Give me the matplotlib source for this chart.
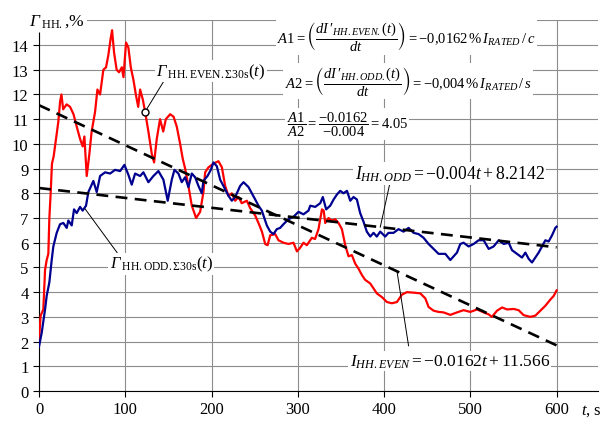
import matplotlib
matplotlib.use("Agg")
import matplotlib.pyplot as plt
import numpy as np

plt.rcParams['font.family'] = 'serif'
plt.rcParams['font.serif'] = ['Liberation Serif', 'DejaVu Serif']
plt.rcParams['mathtext.fontset'] = 'custom'
plt.rcParams['mathtext.rm'] = 'Liberation Serif'
plt.rcParams['mathtext.it'] = 'Liberation Serif:italic'
plt.rcParams['mathtext.bf'] = 'Liberation Serif:bold'
plt.rcParams['mathtext.sf'] = 'Liberation Serif:italic'  # used for the italic Г
plt.rcParams['mathtext.fallback'] = 'stix'

# Г HH.EVEN.Σ30s(t), red
t_even = [0, 1.9, 5, 7, 8.9, 10.8, 12, 13.5, 15, 17, 19.3, 22.4, 24.4, 26, 28, 32, 36, 40,
          43.7, 47.6, 50.6, 52.6, 55.3, 58.4, 61, 65, 67.7, 70.8, 74.6, 77.7, 80.4, 83.2,
          84.7, 87, 90, 92.8, 96, 97.9, 100.9, 103.6, 106.4, 109.4, 112.5, 115, 117.2,
          120.3, 123, 126.8, 130.7, 133.4, 136.5, 140.3, 144, 147, 152, 156, 159.7, 163.6,
          166.6, 169.4, 173.2, 177.1, 182.1, 186.8, 190.6, 192.6, 196.4, 202.2, 208, 212,
          215.8, 219.6, 223.5, 227.4, 231.2, 235, 241, 244.8, 250.6, 254.4, 258.4, 262.2,
          265, 268, 273.8, 277.6, 283.4, 289.2, 295, 299, 302.8, 306.6, 310.5, 316.3, 320,
          324, 328, 330, 331.8, 335.6, 339.5, 343.4, 347.2, 351.1, 355, 358.8, 362.7, 366.6,
          370.4, 374.2, 378, 384, 387.8, 391.6, 397.5, 403.3, 409, 414.9, 420.7, 426.5,
          434.3, 442, 447.8, 451.6, 457.4, 463.2, 469, 476.8, 484.5, 492.2, 500, 507.8,
          515.5, 521.3, 525, 531, 536.8, 542.6, 550.3, 556, 561.8, 569.6, 575.4, 581.2,
          587, 592.8, 596.7, 600]
g_even = [2.1, 3.05, 3.3, 4.9, 5.3, 5.55, 7.0, 8.0, 9.2, 9.5, 10.1, 10.9, 11.7, 12.0, 11.4,
          11.6, 11.5, 11.2, 10.7, 10.2, 9.9, 10.3, 8.7, 9.6, 10.5, 11.3, 12.2, 12.0, 13.0,
          13.1, 13.6, 14.3, 14.6, 13.7, 13.0, 12.9, 13.1, 12.7, 14.1, 13.9, 13.1, 12.6,
          11.95, 11.5, 12.2, 11.8, 11.3, 10.5, 9.6, 9.25, 10.2, 11.0, 10.5, 11.0, 11.2,
          11.1, 10.7, 10.0, 9.4, 9.0, 8.3, 7.5, 7.0, 7.25, 8.05, 8.85, 9.05, 9.2, 9.3, 9.05,
          8.3, 7.9, 8.0, 7.7, 7.85, 7.6, 7.7, 7.4, 7.1, 6.8, 6.45, 5.95, 5.9, 6.3, 6.35,
          6.1, 6.0, 5.95, 6.0, 5.65, 5.8, 6.0, 5.9, 6.2, 6.15, 6.55, 7.35, 7.3, 6.8, 7.0,
          6.9, 6.95, 6.8, 6.55, 5.9, 5.45, 5.5, 5.15, 4.95, 4.7, 4.5, 4.35, 4.15, 3.95, 3.8,
          3.6, 3.55, 3.6, 3.9, 4.0, 3.98, 3.95, 3.75, 3.4, 3.25, 3.2, 3.18, 3.08, 3.18,
          3.27, 3.2, 3.3, 3.18, 3.1, 3.0, 3.25, 3.38, 3.3, 3.32, 3.27, 3.07, 3.0, 3.05,
          3.25, 3.45, 3.7, 3.85, 4.07]

# Г HH.ODD.Σ30s(t), blue
t_odd = [0, 3.1, 7, 8.9, 12, 14.7, 16.6, 20.5, 24.4, 28.2, 32.1, 34, 37.9, 40.6, 43.7, 47.6,
         50.6, 54.5, 57.2, 63, 66.9, 70.8, 76.6, 82.4, 88.2, 94, 99, 103.6, 107.5, 111.4,
         117.2, 121, 126.8, 132.6, 138.4, 144.2, 149.2, 153.9, 157, 161.6, 165.5, 169.4,
         173.2, 177.1, 181, 184.8, 188.7, 190.6, 195.3, 199.2, 202.2, 206.1, 210, 213.8,
         219.6, 223.5, 227.4, 233.2, 237.1, 242.9, 246.8, 250.6, 254.4, 258.3, 264.1, 268,
         271.8, 275.7, 279.5, 283.4, 289.2, 295, 300.8, 306.6, 312.4, 314.4, 320.2, 326,
         329, 332.9, 337.6, 341.5, 345.3, 349.2, 353, 357, 360.8, 364.6, 368.5, 372.3,
         376.2, 380, 384, 387.8, 391.6, 395.5, 401.3, 405.2, 411, 416.8, 422.6, 428.4,
         434.2, 440, 445.8, 451.6, 457.4, 463.2, 471, 476.8, 480.7, 484.5, 488.4, 492.2,
         498, 503.8, 509.6, 515.5, 521.3, 527, 532.9, 538.7, 544.5, 548.3, 554.1, 559.9,
         563.8, 567.6, 571.5, 575.4, 579.2, 583.1, 587, 590.8, 594.7, 598.6, 600]
g_odd = [1.8, 2.35, 3.3, 3.85, 4.4, 5.3, 5.85, 6.4, 6.75, 6.8, 6.6, 6.9, 6.7, 7.35, 7.2,
         7.45, 7.3, 7.5, 8.05, 8.5, 8.05, 8.7, 8.85, 8.8, 8.95, 8.9, 9.15, 8.75, 8.35, 8.8,
         8.7, 8.85, 8.45, 8.7, 8.9, 8.55, 7.7, 8.55, 8.95, 8.8, 8.45, 8.65, 8.25, 8.8, 8.65,
         8.3, 8.0, 8.5, 8.7, 8.95, 9.25, 9.1, 8.55, 8.3, 7.9, 7.7, 7.85, 8.3, 8.45, 8.25,
         8.0, 7.75, 7.5, 7.3, 6.7, 6.45, 6.35, 6.55, 6.6, 6.75, 6.95, 7.05, 7.25, 7.15, 7.3,
         7.5, 7.45, 7.6, 7.85, 7.35, 7.5, 7.75, 7.95, 8.1, 8.0, 8.1, 7.7, 7.85, 7.75, 7.2,
         6.85, 6.45, 6.25, 6.4, 6.25, 6.45, 6.25, 6.4, 6.4, 6.55, 6.45, 6.6, 6.4, 6.35, 6.2,
         5.95, 5.75, 5.55, 5.55, 5.3, 5.45, 5.6, 5.95, 6.0, 5.85, 5.95, 6.1, 6.1, 5.75,
         5.85, 6.1, 5.95, 6.0, 5.7, 5.55, 5.4, 5.6, 5.35, 5.2, 5.4, 5.6, 5.85, 6.1, 6.05,
         6.3, 6.6, 6.65]

# linear trends
slope_even, icpt_even = -0.0162, 11.566
slope_odd, icpt_odd = -0.004, 8.2142
t_fit = np.array([0, 600])

xticks = [0, 100, 200, 300, 400, 500, 600]
yticks = list(range(0, 15))

fig = plt.figure(figsize=(6.03, 4.27), dpi=100)
ax = fig.add_axes([0.0647, 0.082, 0.927, 0.868])

ax.set_xlim(0, 648)
ax.set_ylim(0, 15)
ax.set_xticks(xticks)
ax.set_yticks(yticks)
ax.tick_params(direction='out', length=4, width=0.8, labelsize=12)
ax.grid(True, color='0.55', lw=0.8)
ax.axhline(15, color='0.55', lw=0.8, zorder=0.5)
ax.set_axisbelow(True)
for s in ['top', 'right']:
    ax.spines[s].set_visible(False)
ax.spines['left'].set_bounds(0, 14.5)

ax.plot(t_even, g_even, color='#ff0000', lw=1.6, zorder=3)
ax.plot(t_odd, g_odd, color='#000090', lw=1.6, zorder=3)
ax.plot(t_fit, slope_even * t_fit + icpt_even, color='black', lw=1.9,
        dashes=(4.5, 2.8), zorder=4)
ax.plot(t_fit, slope_odd * t_fit + icpt_odd, color='black', lw=1.9,
        dashes=(4.5, 2.8), zorder=4)

wb = dict(facecolor='white', edgecolor='none', pad=1)

# curve labels with leaders
ax.plot([123, 144], [11.3, 12.5], color='black', lw=0.7, zorder=5)
ax.plot(123, 11.3, marker='o', ms=5, mfc='white', mec='black', mew=1, zorder=6)
ax.text(136, 12.95, r'$\mathsf{Γ}\,_{\mathrm{HH.EVEN.\Sigma30s}}(t)$', fontsize=12,
        va='center', ha='left', bbox=wb, zorder=5)
ax.plot([53.4, 90.5], [7.37, 5.6], color='black', lw=0.7, zorder=5)
ax.text(82, 5.15, r'$\mathsf{Γ}\,_{\mathrm{HH.ODD.\Sigma30s}}(t)$', fontsize=12,
        va='center', ha='left', bbox=wb, zorder=5)

# trend equations
ax.plot([395.6, 407], [slope_odd * 395.6 + icpt_odd, 8.45], color='black', lw=0.7, zorder=5)
ax.text(366, 8.8, r'$I_{HH.ODD}=-0.004t+8.2142$', fontsize=12.7,
        va='center', ha='left', bbox=wb, zorder=5)
ax.plot([415, 428.4], [slope_even * 415 + icpt_even, 1.83], color='black', lw=0.7, zorder=5)
ax.text(360, 1.2, r'$I_{HH.EVEN}=-0.0162t+11.566$', fontsize=12.5,
        va='center', ha='left', bbox=wb, zorder=5)

# slope box
ax.text(276, 14.35, r'$A1=\left(\dfrac{dI\,\prime_{HH.EVEN.}(t)}{dt}\right)=-0{,}0162\,\%\,I_{RATED}\,/\,c$',
        fontsize=10.5, va='center', ha='left', bbox=wb, zorder=5)
ax.text(285, 12.55, r'$A2=\left(\dfrac{dI\,\prime_{HH.ODD.}(t)}{dt}\right)=-0{,}004\,\%\,I_{RATED}\,/\,s$',
        fontsize=10.5, va='center', ha='left', bbox=wb, zorder=5)
ax.text(287, 10.8, r'$\dfrac{A1}{A2}=\dfrac{-0.0162}{-0.004}=4.05$',
        fontsize=10.5, va='center', ha='left', bbox=wb, zorder=5)

# axis titles
ax.text(-12, 15, r'$\mathsf{Γ}\,_{\mathrm{HH.}}$,%', fontsize=12.5, va='center', ha='left',
        bbox=dict(facecolor='white', edgecolor='none', pad=2), zorder=5, clip_on=False)
ax.text(640, -0.75, r'$t$, s', fontsize=12, va='center', ha='center', clip_on=False)

fig.savefig('out.png', dpi=100)
